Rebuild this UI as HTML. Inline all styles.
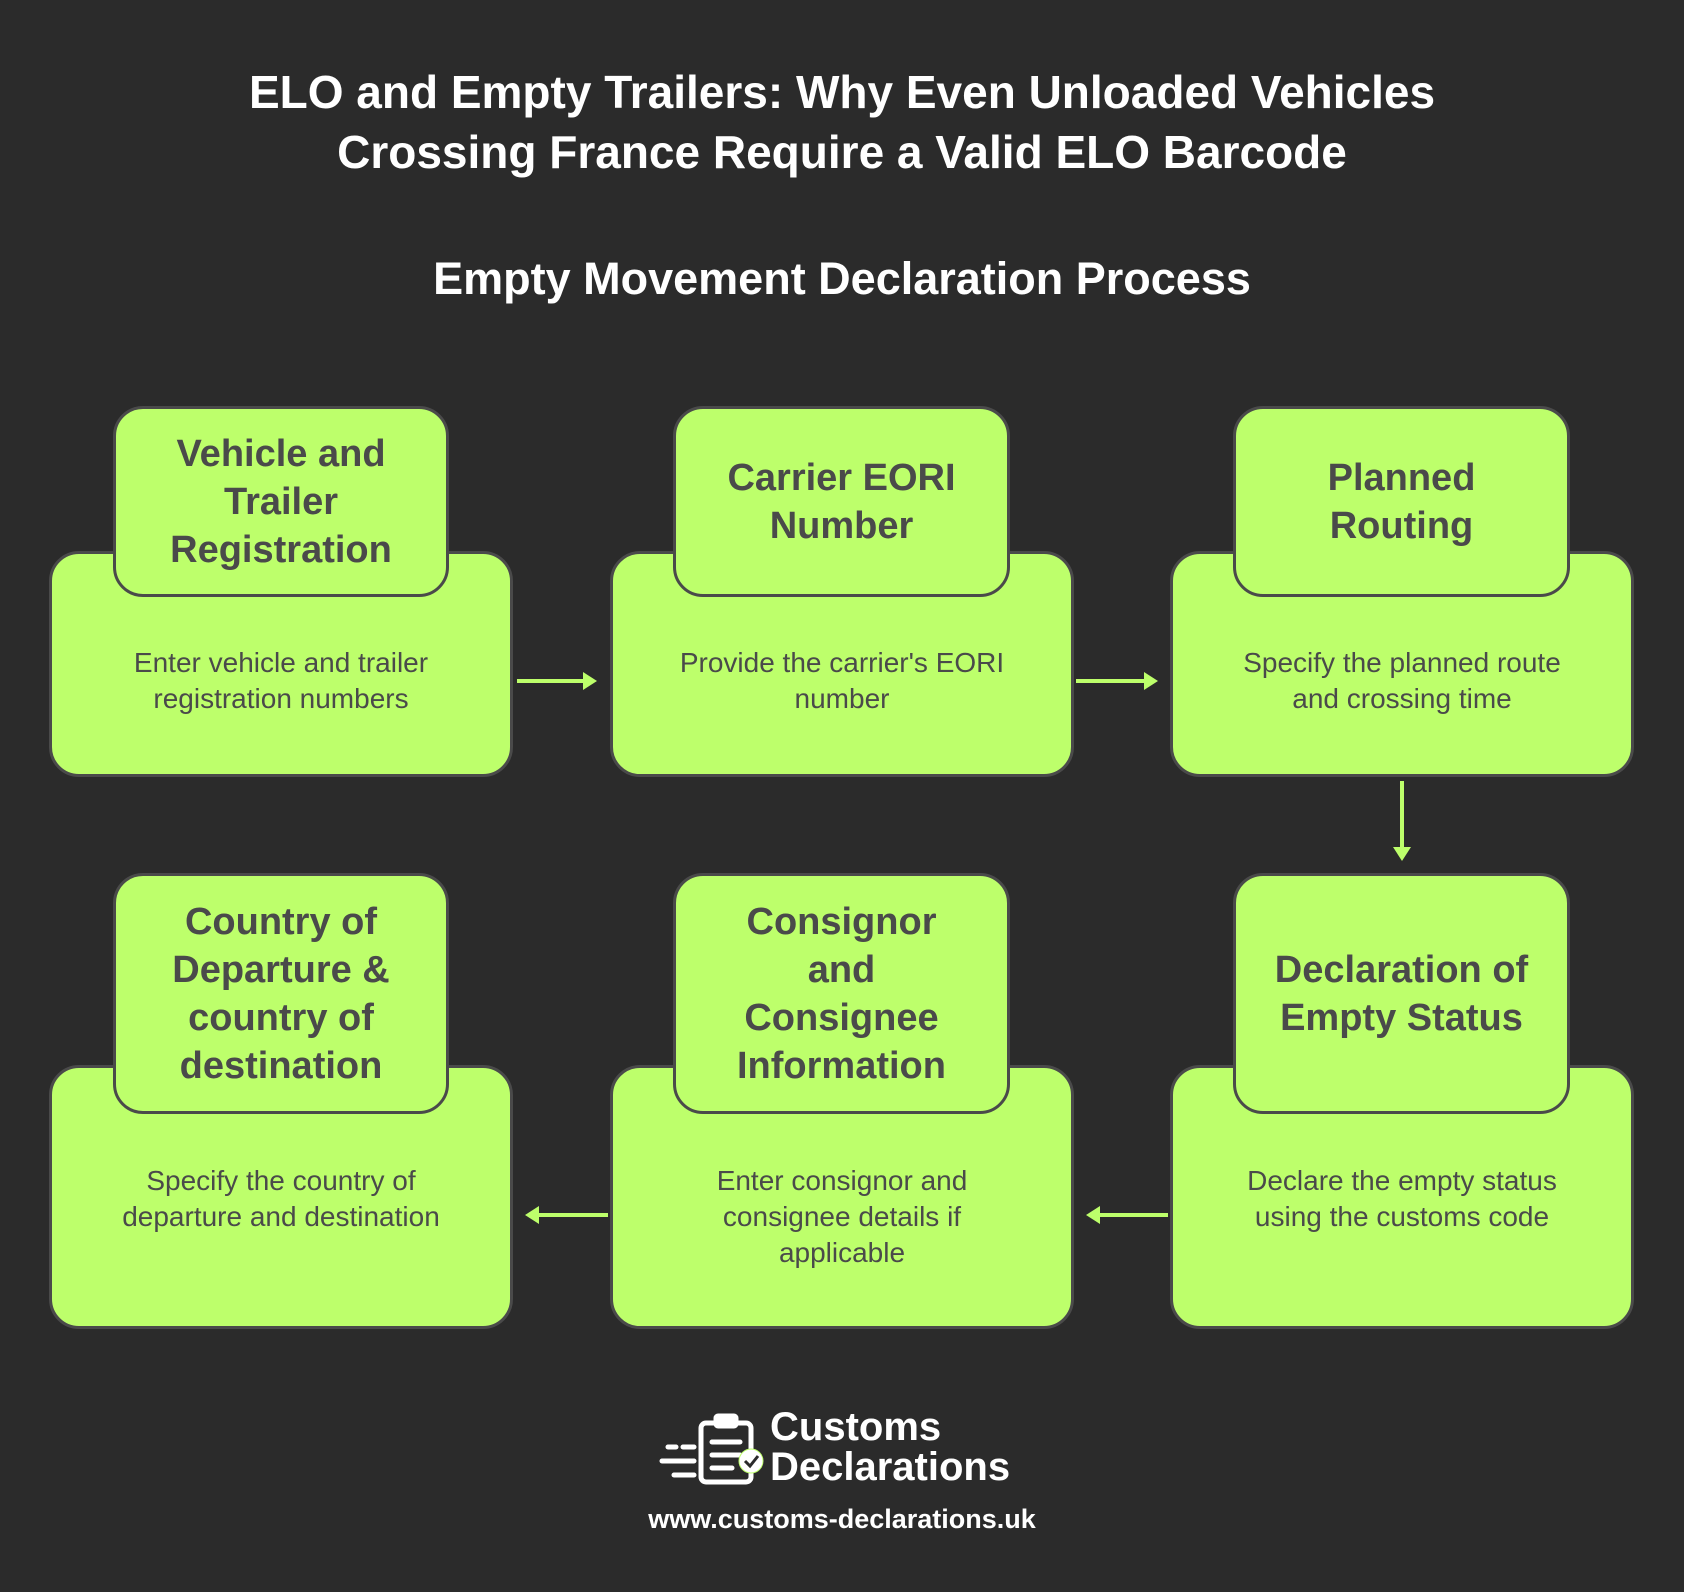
<!DOCTYPE html>
<html><head><meta charset="utf-8"><style>
*{margin:0;padding:0;box-sizing:border-box}
body{width:1684px;height:1592px;background:#2b2b2b;position:relative;overflow:hidden;font-family:"Liberation Sans",Arial,sans-serif}
.t{position:absolute;left:0;width:1684px;text-align:center;color:#fff;font-weight:bold}
.b{position:absolute;background:#bdff6b;border:3px solid #4a4a4a;border-radius:30px;display:flex;align-items:center;justify-content:center;text-align:center;color:#4a4a4a}
.h{font-weight:bold;font-size:38px;line-height:48px}
.d{font-size:28px;line-height:36px;position:absolute;left:0;width:100%;display:flex;align-items:center;justify-content:center;text-align:center;color:#4a4a4a;padding:0 49px}
</style></head><body>
<div class="t" style="top:62px;font-size:46px;line-height:60px">ELO and Empty Trailers: Why Even Unloaded Vehicles<br>Crossing France Require a Valid ELO Barcode</div>
<div class="t" style="top:250px;font-size:45px;line-height:58px">Empty Movement Declaration Process</div>

<!-- row 1 -->
<div class="b" style="left:49px;top:551px;width:464px;height:226px"><div class="d" style="top:52px;height:150px">Enter vehicle and trailer registration numbers</div></div>
<div class="b h" style="left:113px;top:406px;width:336px;height:191px">Vehicle and<br>Trailer<br>Registration</div>
<div class="b" style="left:610px;top:551px;width:464px;height:226px"><div class="d" style="top:52px;height:150px">Provide the carrier's EORI number</div></div>
<div class="b h" style="left:673px;top:406px;width:337px;height:191px">Carrier EORI<br>Number</div>
<div class="b" style="left:1170px;top:551px;width:464px;height:226px"><div class="d" style="top:52px;height:150px">Specify the planned route and crossing time</div></div>
<div class="b h" style="left:1233px;top:406px;width:337px;height:191px">Planned<br>Routing</div>

<!-- row 2 -->
<div class="b" style="left:49px;top:1065px;width:464px;height:264px"><div class="d" style="top:56px;height:150px">Specify the country of departure and destination</div></div>
<div class="b h" style="left:113px;top:873px;width:336px;height:241px">Country of<br>Departure &amp;<br>country of<br>destination</div>
<div class="b" style="left:610px;top:1065px;width:464px;height:264px"><div class="d" style="top:74px;height:150px">Enter consignor and consignee details if applicable</div></div>
<div class="b h" style="left:673px;top:873px;width:337px;height:241px">Consignor<br>and<br>Consignee<br>Information</div>
<div class="b" style="left:1170px;top:1065px;width:464px;height:264px"><div class="d" style="top:56px;height:150px">Declare the empty status using the customs code</div></div>
<div class="b h" style="left:1233px;top:873px;width:337px;height:241px">Declaration of<br>Empty Status</div>

<svg width="1684" height="1592" style="position:absolute;left:0;top:0" fill="#bdff6b" stroke="#bdff6b">
<g stroke-width="4">
<line x1="517" y1="681" x2="588" y2="681"/><polygon points="597,681 583,672 583,690" stroke="none"/>
<line x1="1076" y1="681" x2="1149" y2="681"/><polygon points="1158,681 1144,672 1144,690" stroke="none"/>
<line x1="1402" y1="781" x2="1402" y2="852"/><polygon points="1402,861 1393,847 1411,847" stroke="none"/>
<line x1="1168" y1="1215" x2="1095" y2="1215"/><polygon points="1086,1215 1100,1206 1100,1224" stroke="none"/>
<line x1="608" y1="1215" x2="534" y2="1215"/><polygon points="525,1215 539,1206 539,1224" stroke="none"/>
</g>
<g fill="none" stroke="#fff" stroke-width="5" stroke-linecap="round">
<rect x="701" y="1423" width="50" height="59" rx="5"/>
<rect x="716" y="1416" width="20" height="10" rx="2" fill="#fff"/>
<line x1="712" y1="1442" x2="740" y2="1442"/><line x1="712" y1="1455" x2="740" y2="1455"/><line x1="712" y1="1468" x2="732" y2="1468"/>
<line x1="668" y1="1447" x2="676" y2="1447"/><line x1="683" y1="1447" x2="694" y2="1447"/>
<line x1="662" y1="1461" x2="694" y2="1461"/><line x1="674" y1="1475" x2="694" y2="1475"/>
</g>
<circle cx="751" cy="1461" r="12" fill="#fff"/>
<polyline points="745,1461 750,1466 758,1456" fill="none" stroke="#2b2b2b" stroke-width="3"/>
</svg>
<div style="position:absolute;left:770px;top:1407px;color:#fff;font-weight:bold;font-size:40px;line-height:40px">Customs<br>Declarations</div>
<div class="t" style="left:0;top:1503px;font-size:27px;line-height:32px;width:1684px">www.customs-declarations.uk</div>
</body></html>
